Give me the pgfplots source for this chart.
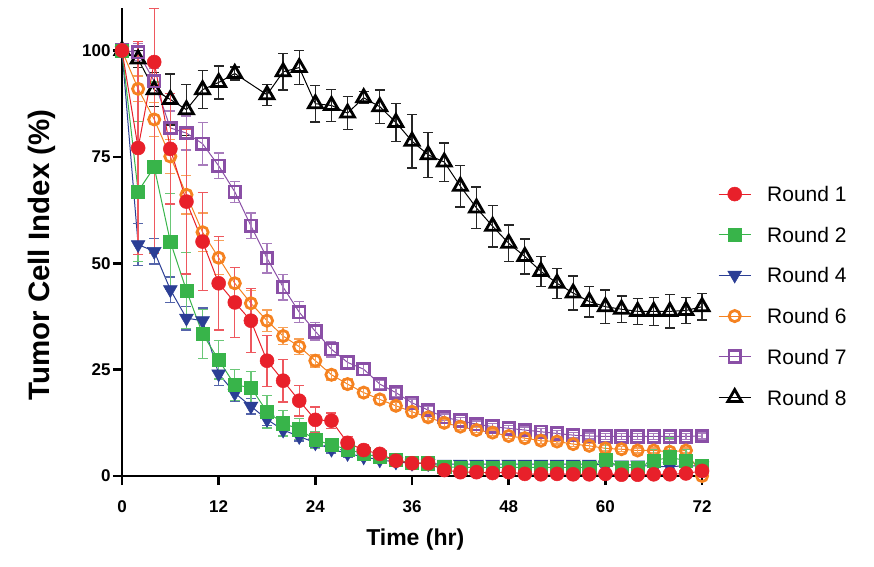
\documentclass[border=0pt]{standalone}
\usepackage{pgfplots}
\pgfplotsset{compat=1.18}
\usepackage{pgfplotstable}
\usepackage{fontspec}
\setmainfont{Liberation Sans}

\definecolor{cR}{RGB}{232,32,42}
\definecolor{cG}{RGB}{56,180,74}
\definecolor{cB}{RGB}{43,62,149}
\definecolor{cO}{RGB}{245,130,32}
\definecolor{cP}{RGB}{138,79,166}

\pgfplotstableread{
t v ep em
0 100 0 0
2 77.1 25 25
4 97.3 12.7 45
6 76.9 13 13
8 64.5 17 17
10 55.1 11.5 11.5
12 45.3 11 11
14 40.8 8.2 8.2
16 36.5 7.5 7.5
18 27.1 6 6
20 22.4 5 5
22 17.7 3.6 3.6
24 13.2 3 3
26 13.0 1.8 1.8
28 7.8 1.5 1.5
30 6.1 1.2 1.2
32 5.2 1 1
34 3.6 0.8 0.8
36 3.0 0.8 0.8
38 3.0 0.6 0.6
40 1.4 0.5 0.5
42 0.9 0.4 0.4
44 0.9 0.4 0.4
46 0.7 0.4 0.4
48 0.9 0.4 0.4
50 0.5 0.4 0.4
52 0.4 0.4 0.4
54 0.5 0.4 0.4
56 0.4 0.4 0.4
58 0.4 0.4 0.4
60 0.5 0.4 0.4
62 0.3 0.3 0.3
64 0.3 0.3 0.3
66 0.4 0.4 0.4
68 0.4 0.4 0.4
70 0.6 0.4 0.4
72 1.2 0.5 0.5
}\rA

\pgfplotstableread{
t v e
0 100 0
2 66.9 16.5
4 72.6 20
6 55.1 11.3
8 43.6 9
10 33.4 5.7
12 27.3 4.5
14 21.4 3.7
16 20.8 3.8
18 15.1 3.8
20 12.4 3
22 11.0 2.5
24 8.5 2
26 7.3 1.5
28 6.3 1.3
30 5.2 1.1
32 4.5 1
34 3.8 0.8
36 3.1 0.8
38 3.0 0.6
40 2.2 0.5
42 2.0 0.5
44 2.0 0.5
46 2.0 0.5
48 2.0 0.5
50 2.0 0.5
52 2.0 0.5
54 2.0 0.5
56 2.0 0.5
58 2.0 0.5
60 3.9 3.8
62 2.0 0.5
64 2.0 0.5
66 3.6 2.7
68 4.4 4.5
70 3.6 2.7
72 2.5 0.8
}\rB

\pgfplotstableread{
t v e
0 100 0
2 54.4 5
4 52.8 3
6 43.8 3
8 37.1 2.8
10 36.5 3
12 24.0 2.7
14 19.5 2
16 16.4 1.8
18 13.3 1.5
20 10.8 1.3
22 9.3 1.1
24 7.8 1
26 6.3 0.9
28 5.3 0.8
30 4.5 0.7
32 3.8 0.6
34 3.3 0.5
36 3.0 0.5
38 2.9 0.5
40 2.8 0.5
42 2.8 0.5
44 2.8 0.5
46 2.8 0.5
48 2.8 0.5
50 2.8 0.5
52 2.8 0.5
54 2.8 0.5
56 2.8 0.5
58 2.8 0.5
60 2.6 0.5
62 2.6 0.5
64 2.6 0.5
66 2.2 0.5
68 2.2 0.5
70 2.4 0.5
72 2.4 0.5
}\rC

\pgfplotstableread{
t v e
0 100 0
2 91.0 3
4 83.8 4
6 75.1 4
8 66.1 4.5
10 57.3 4.5
12 51.3 4
14 45.3 3.7
16 40.6 3
18 36.5 2.5
20 32.9 2
22 30.4 1.8
24 27.1 1.5
26 23.8 1.3
28 21.6 1.2
30 19.6 1
32 18.0 1
34 16.5 0.9
36 15.1 0.9
38 13.8 0.8
40 12.5 0.8
42 11.6 0.7
44 10.8 0.6
46 10.2 0.6
48 9.4 0.6
50 8.9 0.6
52 8.3 0.6
54 8.1 0.6
56 7.5 0.6
58 7.1 0.6
60 6.5 0.6
62 6.3 0.6
64 6.0 0.6
66 6.0 0.6
68 5.7 0.6
70 6.0 0.6
72 0.0 0.6
}\rD

\pgfplotstableread{
t v e
0 100 0
2 99.6 2
4 92.8 3
6 81.8 4
8 80.6 4
10 78.1 5
12 72.9 3
14 66.8 2.5
16 58.8 3
18 51.2 3.5
20 44.4 3
22 38.5 2.5
24 34.0 2
26 29.8 1.8
28 26.7 1.5
30 25.1 1.2
32 21.6 1
34 19.6 1
36 17.2 0.9
38 15.5 0.8
40 13.8 0.8
42 13.0 0.7
44 12.2 0.7
46 11.6 0.7
48 11.2 0.7
50 10.8 0.7
52 10.4 0.7
54 10.0 0.7
56 9.6 0.7
58 9.4 0.7
60 9.3 0.7
62 9.3 0.7
64 9.3 0.7
66 9.3 0.7
68 9.3 0.7
70 9.3 0.7
72 9.4 0.7
}\rE

\pgfplotstableread{
t v e
0 100 0
2 98 2
4 90.8 4
6 88.5 6
8 86.1 6
10 90.8 4.5
12 92.5 3.9
14 94.6 1.5
18 89.6 2.5
20 95.0 4.3
22 96.0 4
24 87.5 4.3
26 87.1 3.7
28 85.3 3.9
30 88.9 1.4
32 86.8 3.9
34 83.1 4.5
36 78.7 6.3
38 75.5 5.3
40 73.8 4.5
42 68.1 4.9
44 63.0 4.9
46 58.7 4.9
48 54.7 4.3
50 51.6 4.1
52 48.1 3.5
54 45.3 3.5
56 43.0 4
58 41.0 3.6
60 39.8 3.9
62 39.2 3.1
64 38.7 3.1
66 38.7 3.3
68 38.7 3.9
70 38.9 3
72 39.8 3.1
}\rF

\begin{document}
\begin{tikzpicture}
\begin{axis}[
  scale only axis,
  width=586.5pt, height=468pt,
  xmin=0, xmax=72.8, ymin=0, ymax=110,
  axis lines=left,
  axis line style={line width=2.8pt, -},
  xtick={0,12,...,72}, ytick={0,25,50,75,100},
  tick align=outside,
  major tick length=9pt,
  tick style={line width=2.8pt, black},
  /pgf/number format/assume math mode=true,
  xticklabel style={font=\bfseries\fontsize{17}{17}\selectfont, yshift=-12pt},
  yticklabel style={font=\bfseries\fontsize{17}{17}\selectfont, xshift=1pt},
  xlabel={Time (hr)},
  ylabel={Tumor Cell Index (\%)},
  xlabel style={font=\bfseries\fontsize{23}{23}\selectfont, at={(axis description cs:0.5,0)}, anchor=center, yshift=-64pt},
  ylabel style={font=\bfseries\fontsize{29.5}{29.5}\selectfont, at={(axis description cs:0,0.472)}, anchor=center, yshift=80pt},
  legend image code/.code={\draw[mark repeat=2,mark phase=2] plot coordinates {(0pt,0pt)(16pt,0pt)(32pt,0pt)};},
  reverse legend,
  legend cell align=left,
  legend style={draw=none, fill=none, inner sep=0pt, at={(axis description cs:1,0.385)}, anchor=west, xshift=9.5pt,
    font=\fontsize{21}{21}\selectfont, row sep=25.5pt,
    nodes={inner sep=0pt, text height=15pt, text depth=0pt},
    /tikz/every odd column/.append style={column sep=16pt}},
  error bars/y dir=both, error bars/y explicit,
  error bars/error mark options={rotate=90, mark size=5pt, line width=1.3pt},
]
\addplot[black, line width=1pt, mark=triangle, mark size=8pt, mark options={line width=2.8pt, fill=white},
  error bars/error bar style={line width=1.3pt, black!85}] table[x=t,y=v,y error=e]{\rF};
\addlegendentry{Round 8}
\addplot[cP, line width=1pt, mark=square, mark size=5.8pt, mark options={line width=2.8pt, fill=white},
  error bars/error bar style={line width=1.3pt, cP!75}] table[x=t,y=v,y error=e]{\rE};
\addlegendentry{Round 7}
\addplot[cO, line width=1pt, mark=o, mark size=5.6pt, mark options={line width=2.8pt, fill=white},
  error bars/error bar style={line width=1.3pt, cO!75}] table[x=t,y=v,y error=e]{\rD};
\addlegendentry{Round 6}
\addplot[cB, line width=1pt, mark=triangle*, mark size=8pt, mark options={rotate=180, fill=cB, draw=cB, line width=0.5pt},
  error bars/error bar style={line width=1.3pt, cB!80}] table[x=t,y=v,y error=e]{\rC};
\addlegendentry{Round 4}
\addplot[cG, line width=1pt, mark=square*, mark size=6.6pt, mark options={fill=cG, draw=cG, line width=0.5pt},
  error bars/error bar style={line width=1.3pt, cG!75}] table[x=t,y=v,y error=e]{\rB};
\addlegendentry{Round 2}
\addplot[cR, line width=1pt, mark=*, mark size=7pt, mark options={fill=cR, draw=cR, line width=0.5pt},
  error bars/error bar style={line width=1.3pt, cR!75}] table[x=t,y=v,y error plus=ep,y error minus=em]{\rA};
\addlegendentry{Round 1}
\end{axis}
\pgfresetboundingbox
\path (-122pt,-90pt) rectangle (752pt,476pt);
\end{tikzpicture}
\end{document}
